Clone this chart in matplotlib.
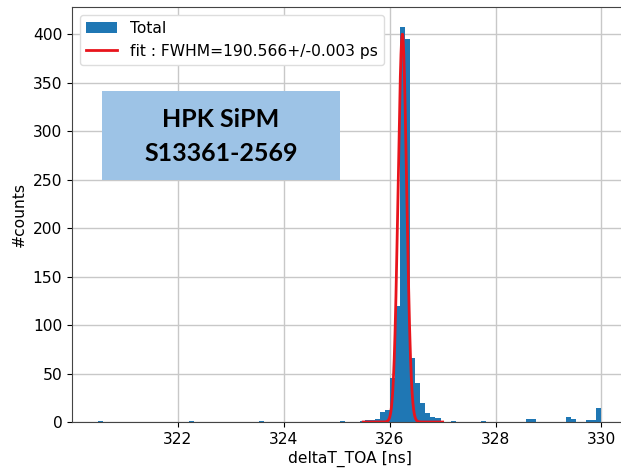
import numpy as np
import matplotlib
matplotlib.use('Agg')
from matplotlib import pyplot as plt
from matplotlib.patches import Rectangle

# histogram values (bin centres in ns, counts)
bin_centers = [320.548, 322.258, 323.588, 325.108, 325.488, 325.583, 325.678, 325.773,
               325.868, 325.963, 326.058, 326.153, 326.248, 326.343, 326.438, 326.533,
               326.628, 326.723, 326.818, 326.913, 327.198, 327.768, 328.623, 328.718,
               329.383, 329.478, 329.763, 329.858, 329.953]
bin_counts = [1, 1, 1, 1, 1, 2, 2, 3,
              10, 12, 45, 120, 407, 395, 66, 40,
              20, 9, 5, 4, 1, 1, 3, 3,
              5, 3, 2, 2, 14]
n_bins = 100
hist_range = (320.5, 330.0)

# gaussian fit parameters
fit_amp = 400.0
fit_mean = 326.24
fwhm_ps = 190.566
fwhm_err = 0.003

xticks = [322, 324, 326, 328, 330]
yticks = [0, 50, 100, 150, 200, 250, 300, 350, 400]

plt.rcParams['font.size'] = 11.2

fig = plt.figure(figsize=(6.21, 4.72), dpi=100)
ax = fig.add_axes([0.1159, 0.1059, 0.8953, 0.8792])

edges = np.linspace(hist_range[0], hist_range[1], n_bins + 1)
ax.hist(bin_centers, bins=edges, weights=bin_counts, color='#1f77b4', label='Total', zorder=2)

sigma = fwhm_ps / 1000.0 / (2 * np.sqrt(2 * np.log(2)))
xs = np.linspace(325.5, 327.0, 600)
ys = fit_amp * np.exp(-0.5 * ((xs - fit_mean) / sigma) ** 2)
ax.plot(xs, ys, color='#e8141c', lw=2,
        label='fit : FWHM=%.3f+/-%.3f ps' % (fwhm_ps, fwhm_err), zorder=3)

ax.set_xlim(320, 330.5)
ax.set_ylim(0, 428)
ax.set_xticks(xticks)
ax.set_yticks(yticks)
ax.grid(True, color='#c8c8c8', lw=1, zorder=0)
ax.set_axisbelow(True)
for s in ax.spines.values():
    s.set_color('#444444')
ax.set_xlabel('deltaT_TOA [ns]', labelpad=3)
ax.set_ylabel('#counts', labelpad=4)
ax.legend(loc='upper left', framealpha=1, edgecolor='#dddddd', borderaxespad=0.5)

# label box pasted on the plot
ax.add_patch(Rectangle((30 / 556, 0.583), 238 / 556, 0.2145, transform=ax.transAxes,
                       facecolor='#9dc3e6', edgecolor='none', zorder=5, clip_on=False))
ax.text(149 / 556, 0.728, 'HPK SiPM', transform=ax.transAxes, ha='center', va='center',
        family='Lato', weight='bold', fontsize=18, zorder=6)
ax.text(149 / 556, 0.648, 'S13361-2569', transform=ax.transAxes, ha='center', va='center',
        family='Lato', weight='bold', fontsize=18, zorder=6)

fig.savefig('out.png', dpi=100)
